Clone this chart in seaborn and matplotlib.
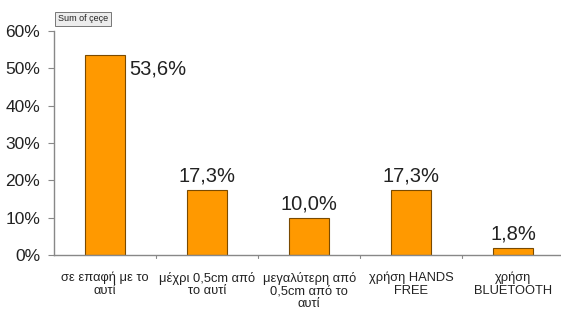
import matplotlib.pyplot as plt
import seaborn as sns
import pandas as pd

categories = [
    "σε επαφή με το\nαυτί",
    "μέχρι 0,5cm από\nτο αυτί",
    "μεγαλύτερη από\n0,5cm από το\nαυτί",
    "χρήση HANDS\nFREE",
    "χρήση\nBLUETOOTH",
]
values = [53.6, 17.3, 10.0, 17.3, 1.8]
labels = ["53,6%", "17,3%", "10,0%", "17,3%", "1,8%"]
yticks = [0, 10, 20, 30, 40, 50, 60]

df = pd.DataFrame({"cat": categories, "val": values})

sns.set_style("white")
plt.rcParams["font.family"] = ["Liberation Sans", "DejaVu Sans"]
plt.rcParams["text.color"] = "#222222"

fig = plt.figure(figsize=(5.61, 3.11), dpi=100)
ax = fig.add_axes([0.0963, 0.18, 0.904, 0.72])

sns.barplot(
    data=df,
    x="cat",
    y="val",
    color="#FF9900",
    saturation=1,
    width=0.39,
    edgecolor="#7a4a00",
    linewidth=0.8,
    ax=ax
)

for i, (v, t) in enumerate(zip(values, labels)):
    if i == 0:
        ax.text(i + 0.24, v - 3.8, t, ha="left", va="center", fontsize=14.5, color="#222222")
    else:
        ax.text(i, v + 1.2, t, ha="center", va="bottom", fontsize=14.5, color="#222222")

ax.set_ylim(0, 60)
ax.set_xlim(-0.5, 4.47)
ax.set_yticks(yticks)
ax.set_yticklabels([f"{y}%" for y in yticks], fontsize=12.5, color="#222222")
ax.set_xticks(range(len(categories)))
ax.set_xticklabels(categories, fontsize=9.3, linespacing=1.05, color="#222222")
ax.tick_params(axis="x", length=0, pad=12)
ax.tick_params(axis="y", length=4, color="#888888", direction="out", left=True, pad=6)

# category boundary ticks on the x axis
for b in [0.5, 1.5, 2.5, 3.5]:
    ax.plot([b, b], [0, -0.9], color="#888888", lw=0.8, clip_on=False)

for s in ["top", "right"]:
    ax.spines[s].set_visible(False)
for s in ["left", "bottom"]:
    ax.spines[s].set_color("#888888")
    ax.spines[s].set_linewidth(1)

ax.set_xlabel("")
ax.set_ylabel("")

fig.text(0.103, 0.925, "Sum of çeçe", fontsize=6.5, va="bottom", ha="left",
         bbox=dict(facecolor="#ececec", edgecolor="#777777", boxstyle="square,pad=0.3", lw=0.7))

fig.savefig("out.png", dpi=100)
